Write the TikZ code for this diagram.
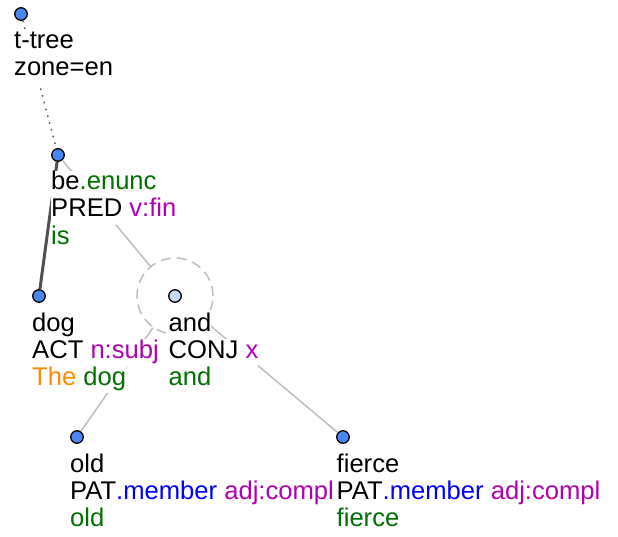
\documentclass[tikz,border=0pt]{standalone}
\usepackage{fontspec}
\setmainfont{Liberation Sans}
\definecolor{nodeblue}{RGB}{72,134,240}
\definecolor{coordblue}{RGB}{200,216,248}
\definecolor{fngreen}{RGB}{0,112,0}
\definecolor{fnmag}{RGB}{176,0,176}
\definecolor{fnorange}{RGB}{255,140,0}
\definecolor{edgegray}{RGB}{190,190,190}
\definecolor{darkedge}{RGB}{80,80,80}

\begin{document}
\begin{tikzpicture}[x=1pt, y=-1pt,
  tnode/.style={circle, draw=black, line width=1.3pt, fill=nodeblue, inner sep=0pt, minimum size=12.5pt},
  ring/.style={circle, draw=edgegray, line width=1.5pt, dash pattern=on 10pt off 6pt, inner sep=0pt, minimum size=76pt},
  dotedge/.style={draw=darkedge, line width=1.4pt, dash pattern=on 1.5pt off 5.5pt},
  heavyedge/.style={draw=darkedge, line width=3pt},
  softedge/.style={draw=edgegray, line width=1.5pt},
  lbl/.style={anchor=base west, inner sep=0pt, fill=white, text height=19pt, text depth=8pt,
    font=\fontsize{25.6pt}{27pt}\selectfont}]
\useasboundingbox (0,0) rectangle (618,537);
% tree nodes
\node[tnode] (root) at (21,14) {};
\node[tnode] (be) at (58,155) {};
\node[tnode] (dog) at (39,296) {};
\node[tnode, fill=coordblue] (and) at (175,296) {};
\node[ring] (andring) at (175,296) {};
\node[tnode] (old) at (77,437) {};
\node[tnode] (fierce) at (343,437) {};
% edges
\draw[dotedge] (root) -- (be);
\draw[heavyedge] (be) -- (dog);
\draw[softedge] (be) -- (andring);
\draw[softedge] (andring) -- (old);
\draw[softedge] (andring) -- (fierce);
% labels
\node[lbl] (root-1) at (14,49) {t-tree};
\node[lbl] (root-2) at (14,76) {zone=en};
\node[lbl] (be-1) at (51,190) {be\textcolor{fngreen}{.enunc}};
\node[lbl] (be-2) at (51,217) {PRED \textcolor{fnmag}{v:fin}};
\node[lbl] (be-3) at (51,244) {\textcolor{fngreen}{is}};
\node[lbl] (dog-1) at (32,331) {dog};
\node[lbl] (dog-2) at (32,358) {ACT \textcolor{fnmag}{n:subj}};
\node[lbl] (dog-3) at (32,385) {\textcolor{fnorange}{The} \textcolor{fngreen}{dog}};
\node[lbl] (and-1) at (168.5,331) {and};
\node[lbl] (and-2) at (168.5,358) {CONJ \textcolor{fnmag}{x}};
\node[lbl] (and-3) at (168.5,385) {\textcolor{fngreen}{and}};
\node[lbl] (old-1) at (70,472) {old};
\node[lbl] (old-2) at (70,499) {PAT\textcolor{blue}{.member} \textcolor{fnmag}{adj:compl}};
\node[lbl] (old-3) at (70,526) {\textcolor{fngreen}{old}};
\node[lbl] (fierce-1) at (336.5,472) {fierce};
\node[lbl] (fierce-2) at (336.5,499) {PAT\textcolor{blue}{.member} \textcolor{fnmag}{adj:compl}};
\node[lbl] (fierce-3) at (336.5,526) {\textcolor{fngreen}{fierce}};
\end{tikzpicture}
\end{document}
